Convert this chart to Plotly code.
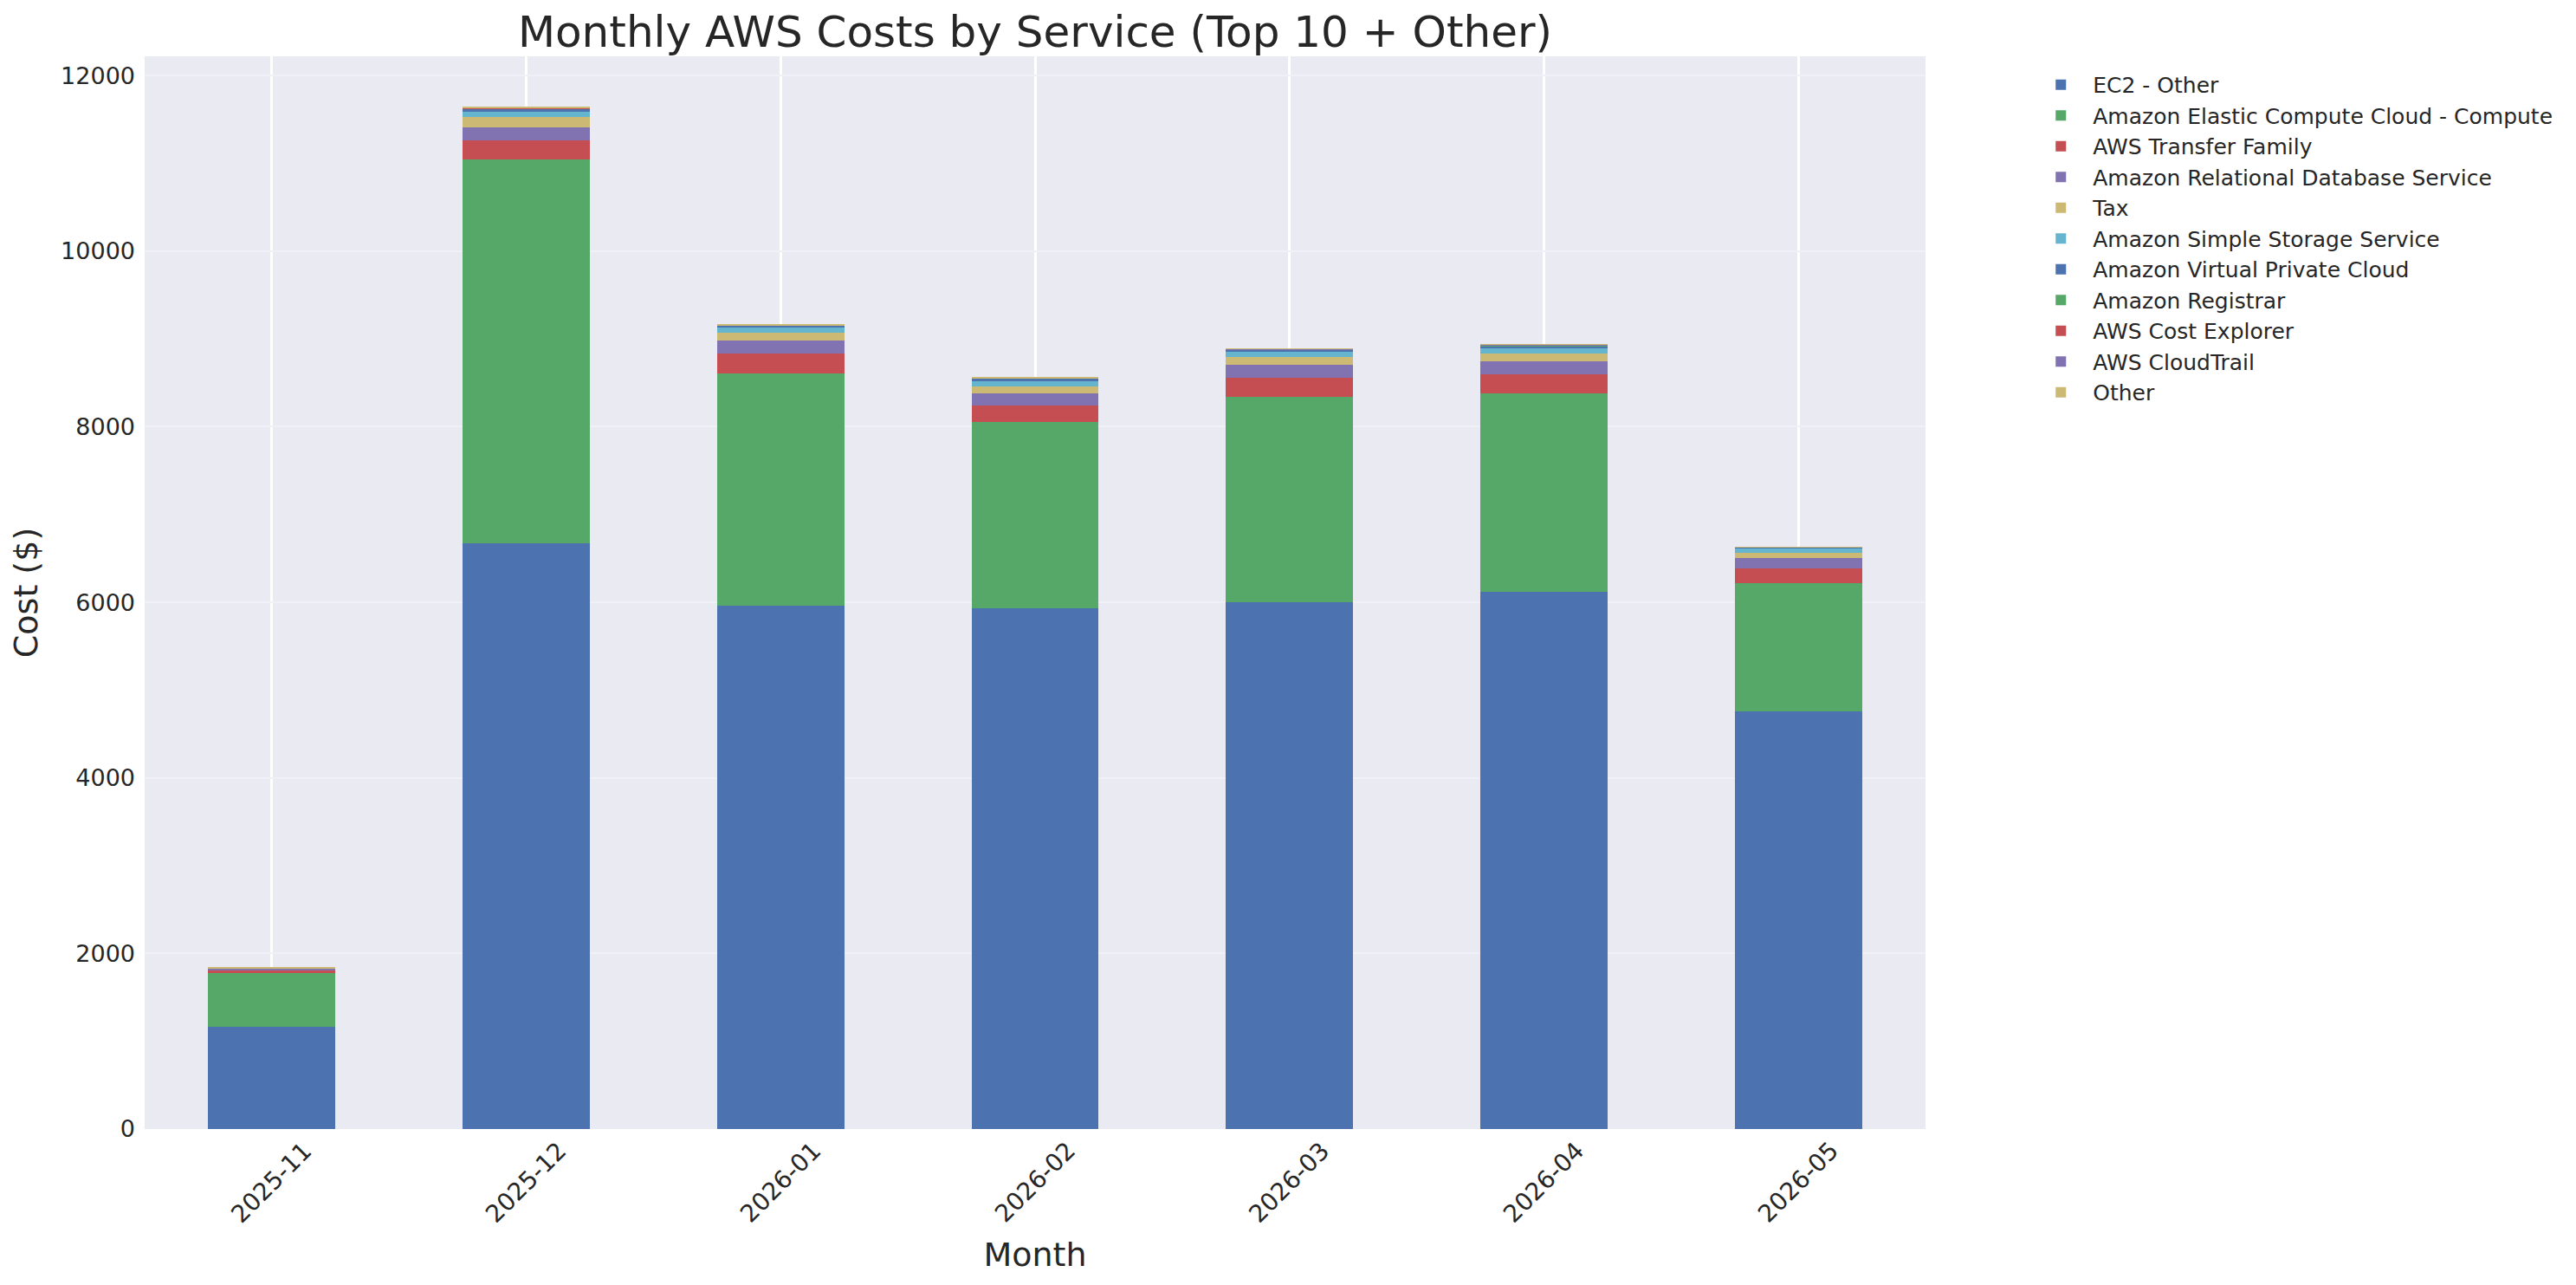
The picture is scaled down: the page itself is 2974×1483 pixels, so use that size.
import plotly.graph_objects as go

months = ["2025-11", "2025-12", "2026-01", "2026-02", "2026-03", "2026-04", "2026-05"]

services = [
    "EC2 - Other",
    "Amazon Elastic Compute Cloud - Compute",
    "AWS Transfer Family",
    "Amazon Relational Database Service",
    "Tax",
    "Amazon Simple Storage Service",
    "Amazon Virtual Private Cloud",
    "Amazon Registrar",
    "AWS Cost Explorer",
    "AWS CloudTrail",
    "Other",
]

ec2_other = [1161, 6668, 5957, 5928, 5997, 6115, 4754]
ec2_compute = [612, 4372, 2646, 2121, 2340, 2260, 1460]
transfer_family = [30, 217, 227, 197, 217, 217, 168]
rds = [30, 148, 148, 138, 148, 148, 118]
tax = [3, 119, 89, 76, 89, 89, 59]
s3 = [5, 59, 59, 62, 59, 59, 49]
vpc = [2, 37, 30, 30, 30, 33, 20]
registrar = [0, 0, 0, 0, 0, 10, 0]
cost_explorer = [0.5, 12, 1, 1, 1, 1, 0.5]
cloudtrail = [0.3, 2, 2, 2, 2, 2, 1]
other = [1, 3, 3, 3, 3, 4, 2]

# seaborn "deep" palette, cycled like pandas does
palette = ["#4C72B0", "#55A868", "#C44E52", "#8172B2", "#CCB974", "#64B5CD"]

FONT = "DejaVu Sans"
TEXT = "#262626"


def plot_costs():
    series = [ec2_other, ec2_compute, transfer_family, rds, tax, s3, vpc,
              registrar, cost_explorer, cloudtrail, other]

    fig = go.Figure()
    for i, (name, vals) in enumerate(zip(services, series)):
        fig.add_trace(
            go.Bar(
                x=months,
                y=vals,
                name=name,
                legendgroup=name,  # one group each so tracegroupgap spaces rows
                marker=dict(color=palette[i % len(palette)], line=dict(width=0)),
                width=0.5,
            )
        )

    totals = [sum(col) for col in zip(*series)]

    # rotated month labels, centred on each bar like matplotlib does
    labels = [
        dict(
            x=m, y=0, xref="x", yref="paper", text=m, textangle=-45,
            showarrow=False, xanchor="center", yanchor="top", yshift=-6,
            font=dict(family=FONT, size=28, color=TEXT),
        )
        for m in months
    ]

    # page body has an 8px margin, so everything is pulled up/left by 8
    fig.update_layout(
        width=2974,
        height=1483,
        barmode="stack",
        paper_bgcolor="white",
        plot_bgcolor="#EAEAF2",
        font=dict(family=FONT, color=TEXT),
        margin=dict(l=159, r=759, t=57, b=188, autoexpand=False),
        title=dict(
            text="Monthly AWS Costs by Service (Top 10 + Other)",
            x=0.5, xref="paper", xanchor="center",
            y=0.981, yref="container", yanchor="middle",
            font=dict(family=FONT, size=50, color=TEXT),
        ),
        legend=dict(
            x=1.058, y=0.992, xanchor="left", yanchor="top",
            font=dict(family=FONT, size=25, color=TEXT),
            bgcolor="rgba(0,0,0,0)",
            traceorder="normal",
            tracegroupgap=5,
            itemwidth=64,
        ),
        xaxis=dict(
            type="category",
            range=[-0.5, len(months) - 0.5],
            showgrid=True, gridcolor="white", gridwidth=3,
            showticklabels=False, showline=False, zeroline=False,
            title=dict(text="Month", standoff=131,
                       font=dict(family=FONT, size=38, color=TEXT)),
        ),
        yaxis=dict(
            range=[0, max(totals) * 1.05],
            tick0=0, dtick=2000, tickformat="d",
            showgrid=True, gridcolor="#F0F0F6", gridwidth=2,
            zeroline=False, showline=False,
            ticklabelstandoff=10,
            tickfont=dict(family=FONT, size=27, color=TEXT),
            title=dict(text="Cost ($)", standoff=28,
                       font=dict(family=FONT, size=38, color=TEXT)),
        ),
        annotations=labels,
    )
    return fig


if __name__ == "__main__":
    fig = plot_costs()
    fig.write_html("out.html")
